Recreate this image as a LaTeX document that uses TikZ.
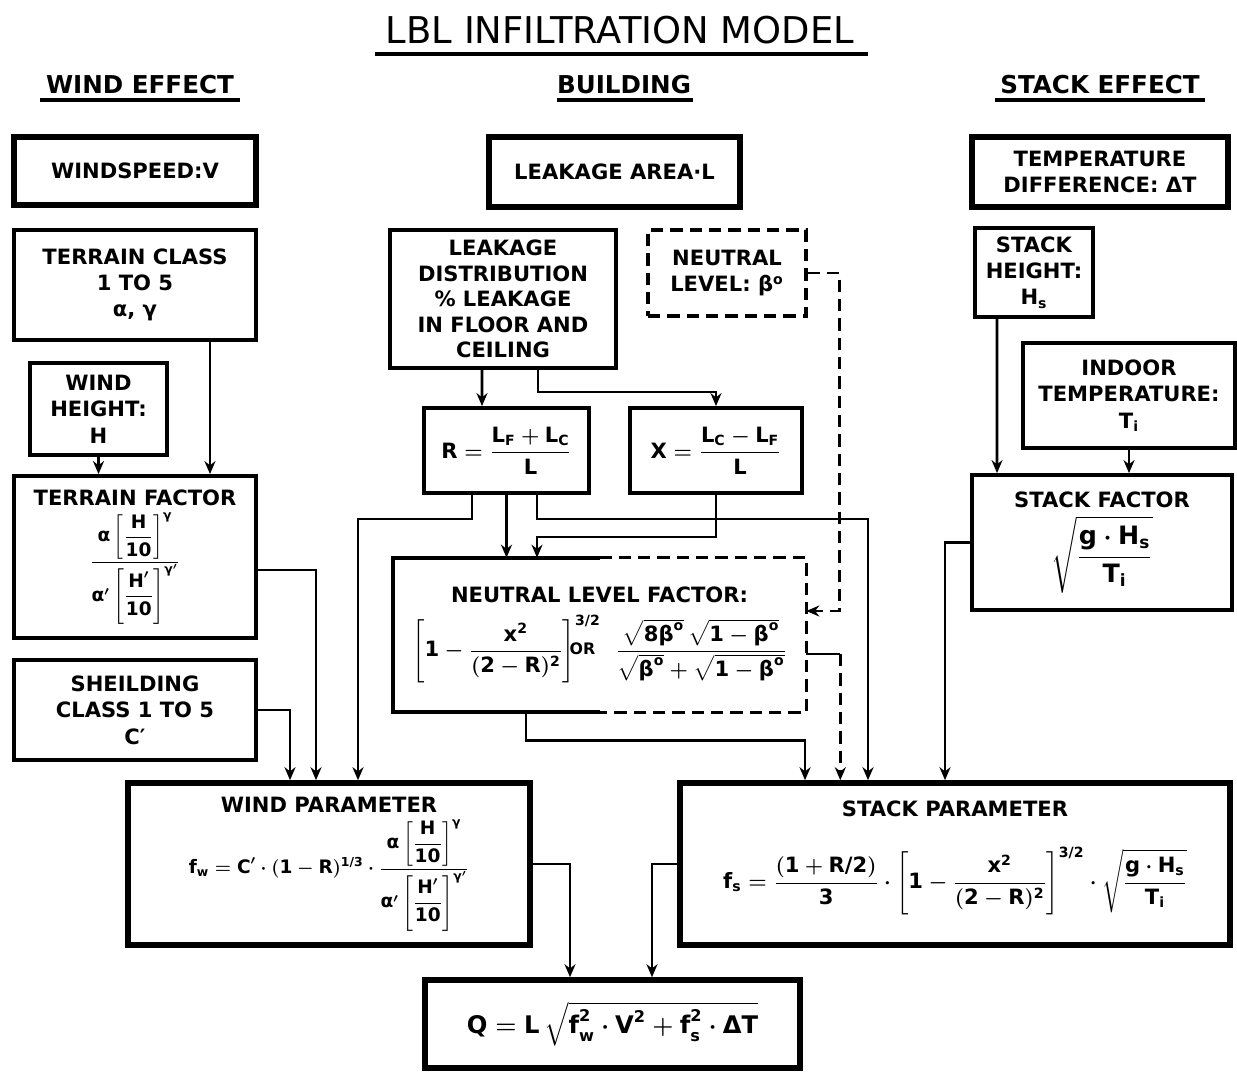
\documentclass[tikz,border=0pt]{standalone}
\usepackage{amsmath}
\usepackage{fontspec}
\setmainfont{DejaVu Sans}
\usetikzlibrary{arrows.meta,calc}
\newcommand{\mtxt}[1]{\text{#1}}
\tikzset{
  flowarrow/.style={-{Stealth[length=2.6mm,width=2.2mm]}, line width=1.6pt},
  flowline/.style={line width=1.6pt},
  dashline/.style={line width=1.6pt, dash pattern=on 7pt off 4pt},
  thickbox/.style={draw, line width=3.2pt, align=center, inner sep=2pt},
  infobox/.style={draw, line width=2.2pt, align=center, inner sep=2pt},
  dashbox/.style={draw, line width=1.8pt, dash pattern=on 7pt off 4pt, align=center, inner sep=2pt},
  headtext/.style={font=\fontsize{14}{16}\selectfont\bfseries},
  headline/.style={line width=2pt}
}

\begin{document}
\begin{tikzpicture}[x=0.02cm, y=-0.02cm, every node/.style={font=\fontsize{12}{15}\selectfont\bfseries\boldmath}]
  \useasboundingbox (0,0) rectangle (1237,1074);

  % headings
  \node[font=\fontsize{21}{24}\selectfont] (title) at (620,30) {LBL INFILTRATION MODEL};
  \draw[headline] (375,54) -- (868,54);
  \node[headtext] (hwind) at (140,85) {WIND EFFECT};
  \draw[headline] (40,100) -- (240,100);
  \node[headtext] (hbuild) at (624,85) {BUILDING};
  \draw[headline] (557,100) -- (693,100);
  \node[headtext] (hstack) at (1100,85) {STACK EFFECT};
  \draw[headline] (995,100) -- (1205,100);

  % wind effect column
  \node[thickbox, minimum width=4.84cm, minimum height=1.36cm] (wspeed) at (135,171) {WINDSPEED:V};
  \node[infobox, minimum width=4.84cm, minimum height=2.2cm] (tclass) at (135,285) {TERRAIN CLASS\\1 TO 5\\α, γ};
  \node[infobox, minimum width=2.74cm, minimum height=1.84cm] (wheight) at (98.5,409) {WIND\\HEIGHT:\\H};
  \node[infobox, minimum width=4.84cm, minimum height=3.24cm] (tfactor) at (135,557) {TERRAIN FACTOR\\[3pt]
    \scalebox{0.88}{$\dfrac{\mtxt{α}\left[\dfrac{\mtxt{H}}{\mtxt{10}}\right]^{\mtxt{γ}}}{\mtxt{α}'\left[\dfrac{\mtxt{H}'}{\mtxt{10}}\right]^{\mtxt{γ}'}}$}};
  \node[infobox, minimum width=4.84cm, minimum height=2.0cm] (shield) at (135,710) {SHEILDING\\CLASS 1 TO 5\\C′};
  \node[thickbox, minimum width=8.04cm, minimum height=3.24cm] (wparam) at (329,864) {WIND PARAMETER\\[3pt]
    \scalebox{0.88}{$\mtxt{f}_{\mtxt{w}}=\mtxt{C}'\cdot(\mtxt{1}-\mtxt{R})^{\mtxt{1/3}}\cdot\dfrac{\mtxt{α}\left[\dfrac{\mtxt{H}}{\mtxt{10}}\right]^{\mtxt{γ}}}{\mtxt{α}'\left[\dfrac{\mtxt{H}'}{\mtxt{10}}\right]^{\mtxt{γ}'}}$}};

  % building column
  \node[thickbox, minimum width=5.02cm, minimum height=1.4cm] (lkarea) at (614.5,172) {LEAKAGE AREA·L};
  \node[infobox, minimum width=4.52cm, minimum height=2.76cm, font=\fontsize{12}{14.5}\selectfont\bfseries] (ldist) at (503,299) {LEAKAGE\\DISTRIBUTION\\\% LEAKAGE\\IN FLOOR AND\\CEILING};
  \node[dashbox, minimum width=3.16cm, minimum height=1.72cm] (nlevel) at (727,273) {NEUTRAL\\LEVEL: β\textsuperscript{o}};
  \node[infobox, minimum width=3.3cm, minimum height=1.7cm] (rbox) at (506.5,450.5)
    {$\mtxt{R}=\dfrac{\mtxt{L}_{\mtxt{F}}+\mtxt{L}_{\mtxt{C}}}{\mtxt{L}}$};
  \node[infobox, minimum width=3.44cm, minimum height=1.7cm] (xbox) at (716,450.5)
    {$\mtxt{X}=\dfrac{\mtxt{L}_{\mtxt{C}}-\mtxt{L}_{\mtxt{F}}}{\mtxt{L}}$};
  \node[align=center, minimum width=8.26cm, minimum height=3.08cm] (nlf) at (599.5,635) {NEUTRAL LEVEL FACTOR:\\[6pt]
    $\left[\mtxt{1}-\dfrac{\mtxt{x}^{\mtxt{2}}}{(\mtxt{2}-\mtxt{R})^{\mtxt{2}}}\right]^{\mtxt{3/2}}\mkern-26mu\raisebox{0.2ex}{\small OR}\;\;\;
    \dfrac{\sqrt{\mtxt{8β}^{\mtxt{o}}}\,\sqrt{\mtxt{1}-\mtxt{β}^{\mtxt{o}}}}{\sqrt{\mtxt{β}^{\mtxt{o}}}+\sqrt{\mtxt{1}-\mtxt{β}^{\mtxt{o}}}}$};
  \draw[line width=2.2pt] (nlf.north) -- (nlf.north west) -- (nlf.south west) -- (nlf.south);
  \draw[dashline, line width=2pt] (nlf.north) -- (nlf.north east) -- (nlf.south east) -- (nlf.south);
  \node[thickbox, minimum width=7.5cm, minimum height=1.76cm] (qbox) at (612.5,1024)
    {\scalebox{1.15}{$\mtxt{Q}=\mtxt{L}\,\sqrt{\mtxt{f}_{\mtxt{w}}^{\mtxt{2}}\cdot\mtxt{V}^{\mtxt{2}}+\mtxt{f}_{\mtxt{s}}^{\mtxt{2}}\cdot\mtxt{ΔT}}$}};

  % stack effect column
  \node[thickbox, minimum width=5.12cm, minimum height=1.4cm] (tdiff) at (1100,172) {TEMPERATURE\\DIFFERENCE: ΔT};
  \node[infobox, minimum width=2.36cm, minimum height=1.78cm] (sheight) at (1034,272.5) {STACK\\HEIGHT:\\H$_{\mtxt{s}}$};
  \node[infobox, minimum width=4.24cm, minimum height=2.1cm] (itemp) at (1129,395.5) {INDOOR\\TEMPERATURE:\\T$_{\mtxt{i}}$};
  \node[infobox, minimum width=5.2cm, minimum height=2.7cm] (sfactor) at (1102,542.5) {STACK FACTOR\\[4pt]
    \scalebox{1.2}{$\sqrt{\dfrac{\mtxt{g}\cdot\mtxt{H}_{\mtxt{s}}}{\mtxt{T}_{\mtxt{i}}}}$}};
  \node[thickbox, minimum width=11cm, minimum height=3.24cm] (sparam) at (955,864) {STACK PARAMETER\\[16pt]
    $\mtxt{f}_{\mtxt{s}}=\dfrac{(\mtxt{1}+\mtxt{R/2})}{\mtxt{3}}\cdot\left[\mtxt{1}-\dfrac{\mtxt{x}^{\mtxt{2}}}{(\mtxt{2}-\mtxt{R})^{\mtxt{2}}}\right]^{\mtxt{3/2}}\cdot\sqrt{\dfrac{\mtxt{g}\cdot\mtxt{H}_{\mtxt{s}}}{\mtxt{T}_{\mtxt{i}}}}$\\[6pt]};

  % wind connectors
  \draw[flowarrow] ([xshift=1.5cm]tclass.south) -- ([xshift=1.5cm]tfactor.north);
  \draw[flowarrow] (wheight.south) -- (wheight.south |- tfactor.north);
  \draw[flowarrow] ([yshift=-0.26cm]tfactor.east) -| ([xshift=-0.26cm]wparam.north);
  \draw[flowarrow] (shield.east) -| ([xshift=-0.78cm]wparam.north);
  \draw[flowarrow] ([xshift=-0.69cm]rbox.south) -- ++(0,24) -| ([xshift=0.58cm]wparam.north);

  % building connectors
  \draw[flowarrow] ([xshift=-0.42cm]ldist.south) -- ([xshift=-0.49cm]rbox.north);
  \draw[flowarrow] ([xshift=0.7cm]ldist.south) -- ++(0,22) -| (xbox.north);
  \draw[flowarrow] (rbox.south) -- (rbox.south |- nlf.north);
  \draw[flowarrow] ([xshift=0.61cm]rbox.south) -- ++(0,24) -| ([xshift=-1.74cm]sparam.north);
  \draw[flowarrow] (xbox.south) -- ++(0,42) -| ([xshift=-1.25cm]nlf.north);
  \draw[flowarrow, dashline] (nlevel.east) -- ++(32,0) |- ([yshift=0.48cm]nlf.east);
  \draw[flowline] ([yshift=-0.38cm]nlf.east) -- ++(34,0) coordinate (nlfout);
  \draw[flowarrow, dashline] (nlfout) -- (nlfout |- sparam.north);
  \draw[flowarrow] ([xshift=-1.47cm]nlf.south) -- ++(0,28) -| ([xshift=-3cm]sparam.north);

  % stack connectors
  \draw[flowarrow] ([xshift=-0.74cm]sheight.south) -- ([xshift=-2.1cm]sfactor.north);
  \draw[flowarrow] (itemp.south) -- (itemp.south |- sfactor.north);
  \draw[flowarrow] (sfactor.west) -| ([xshift=-0.2cm]sparam.north);

  % outputs
  \draw[flowarrow] (wparam.east) -| ([xshift=-0.85cm]qbox.north);
  \draw[flowarrow] (sparam.west) -| ([xshift=0.79cm]qbox.north);
\end{tikzpicture}
\end{document}
